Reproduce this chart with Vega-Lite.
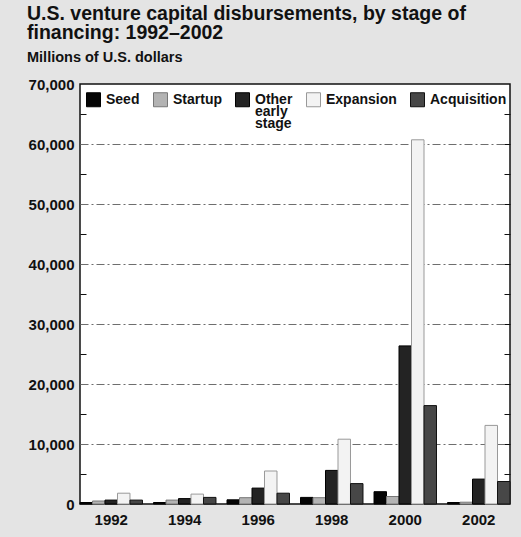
{
  "$schema": "https://vega.github.io/schema/vega-lite/v6.json",
  "width": 430,
  "height": 420,
  "autosize": "none",
  "padding": {"left": 80, "top": 84, "right": 11, "bottom": 33},
  "background": "#e4e4e4",
  "title": {
    "text": ["U.S. venture capital disbursements, by stage of", "financing: 1992–2002"],
    "subtitle": "Millions of U.S. dollars",
    "anchor": "start",
    "frame": "group",
    "dx": -53,
    "offset": 12,
    "font": "Liberation Sans",
    "fontSize": 19.5,
    "fontWeight": "bold",
    "lineHeight": 19,
    "color": "#111111",
    "subtitleFont": "Liberation Sans",
    "subtitleFontSize": 14.5,
    "subtitleFontWeight": "bold",
    "subtitleColor": "#111111",
    "subtitlePadding": 7
  },
  "data": {
    "values": [
      {"year": "1992", "stage": "Seed", "value": 250},
      {"year": "1992", "stage": "Startup", "value": 500},
      {"year": "1992", "stage": "Other early stage", "value": 650},
      {"year": "1992", "stage": "Expansion", "value": 1800},
      {"year": "1992", "stage": "Acquisition", "value": 650},
      {"year": "1994", "stage": "Seed", "value": 250},
      {"year": "1994", "stage": "Startup", "value": 650},
      {"year": "1994", "stage": "Other early stage", "value": 900},
      {"year": "1994", "stage": "Expansion", "value": 1650},
      {"year": "1994", "stage": "Acquisition", "value": 1100},
      {"year": "1996", "stage": "Seed", "value": 700},
      {"year": "1996", "stage": "Startup", "value": 1050},
      {"year": "1996", "stage": "Other early stage", "value": 2650},
      {"year": "1996", "stage": "Expansion", "value": 5500},
      {"year": "1996", "stage": "Acquisition", "value": 1800},
      {"year": "1998", "stage": "Seed", "value": 1100},
      {"year": "1998", "stage": "Startup", "value": 1050},
      {"year": "1998", "stage": "Other early stage", "value": 5600},
      {"year": "1998", "stage": "Expansion", "value": 10800},
      {"year": "1998", "stage": "Acquisition", "value": 3400},
      {"year": "2000", "stage": "Seed", "value": 2050},
      {"year": "2000", "stage": "Startup", "value": 1250},
      {"year": "2000", "stage": "Other early stage", "value": 26350},
      {"year": "2000", "stage": "Expansion", "value": 60700},
      {"year": "2000", "stage": "Acquisition", "value": 16400},
      {"year": "2002", "stage": "Seed", "value": 250},
      {"year": "2002", "stage": "Startup", "value": 300},
      {"year": "2002", "stage": "Other early stage", "value": 4150},
      {"year": "2002", "stage": "Expansion", "value": 13100},
      {"year": "2002", "stage": "Acquisition", "value": 3750}
    ]
  },
  "layer": [
    {
      "mark": {"type": "bar", "strokeWidth": 1},
      "encoding": {
        "x": {
          "field": "year",
          "type": "nominal",
          "scale": {"paddingInner": 0.15, "paddingOuter": 0},
          "axis": {
            "title": null,
            "labelAngle": 0,
            "ticks": false,
            "domain": false,
            "labelFont": "Liberation Sans",
            "labelFontSize": 15,
            "labelFontWeight": "bold",
            "labelColor": "#111111",
            "labelPadding": 8
          }
        },
        "xOffset": {
          "field": "stage",
          "type": "nominal",
          "sort": ["Seed", "Startup", "Other early stage", "Expansion", "Acquisition"],
          "scale": {"paddingInner": 0, "paddingOuter": 0}
        },
        "y": {
          "field": "value",
          "type": "quantitative",
          "scale": {"domain": [0, 70000], "nice": false},
          "axis": {
            "title": null,
            "orient": "left",
            "offset": -6,
            "values": [0, 5000, 10000, 15000, 20000, 25000, 30000, 35000, 40000, 45000, 50000, 55000, 60000, 65000, 70000],
            "labelExpr": "datum.value % 10000 === 0 ? format(datum.value, ',') : ''",
            "domain": false,
            "tickSize": 6,
            "tickColor": "#111111",
            "tickOpacity": {"condition": {"test": "datum.value % 10000 === 0", "value": 0}, "value": 1},
            "labelPadding": 6,
            "labelFont": "Liberation Sans",
            "labelFontSize": 15,
            "labelFontWeight": "bold",
            "labelColor": "#111111",
            "grid": true,
            "gridColor": "#6e6e6e",
            "gridDash": [8, 3, 2, 3],
            "gridOpacity": {"condition": {"test": "datum.value % 10000 === 0 && datum.value > 0 && datum.value < 70000", "value": 1}, "value": 0}
          }
        },
        "fill": {
          "field": "stage",
          "type": "nominal",
          "scale": {
            "domain": ["Seed", "Startup", "Other early stage", "Expansion", "Acquisition"],
            "range": ["#050505", "#b3b3b3", "#232323", "#f3f3f3", "#474747"]
          },
          "legend": {"title": null, "orient": "none", "legendX": 6, "legendY": 8, "direction": "horizontal", "columns": 5,
            "labelExpr": "datum.label === 'Other early stage' ? ['Other', 'early', 'stage'] : [datum.label, ' ', ' ']"}
        },
        "stroke": {
          "field": "stage",
          "type": "nominal",
          "scale": {
            "domain": ["Seed", "Startup", "Other early stage", "Expansion", "Acquisition"],
            "range": ["#000000", "#777777", "#000000", "#999999", "#111111"]
          },
          "legend": {"title": null, "orient": "none", "legendX": 6, "legendY": 8, "direction": "horizontal", "columns": 5,
            "labelExpr": "datum.label === 'Other early stage' ? ['Other', 'early', 'stage'] : [datum.label, ' ', ' ']"}
        }
      }
    },
    {
      "mark": {"type": "point", "opacity": 0},
      "encoding": {
        "y": {
          "field": "value",
          "type": "quantitative",
          "scale": {"domain": [0, 70000], "nice": false},
          "axis": {
            "title": null,
            "orient": "right",
            "offset": -6,
            "values": [5000, 10000, 15000, 20000, 25000, 30000, 35000, 40000, 45000, 50000, 55000, 60000, 65000],
            "labels": false,
            "domain": false,
            "grid": false,
            "tickSize": 6,
            "tickColor": "#111111"
          }
        }
      }
    }
  ],
  "resolve": {"axis": {"y": "independent"}},
  "config": {
    "view": {"fill": "#ffffff", "stroke": "#111111", "strokeWidth": 1.5},
    "style": {"guide-label": {"lineHeight": 12}},
    "legend": {
      "symbolType": "square",
      "symbolSize": 196,
      "symbolStrokeWidth": 1,
      "symbolOpacity": 1,
      "labelFont": "Liberation Sans",
      "labelFontSize": 14,
      "labelFontWeight": "bold",
      "labelColor": "#111111",
      "labelOffset": 5,
      "columnPadding": 11,
      "labelLimit": 200,
      "padding": 0
    }
  }
}
